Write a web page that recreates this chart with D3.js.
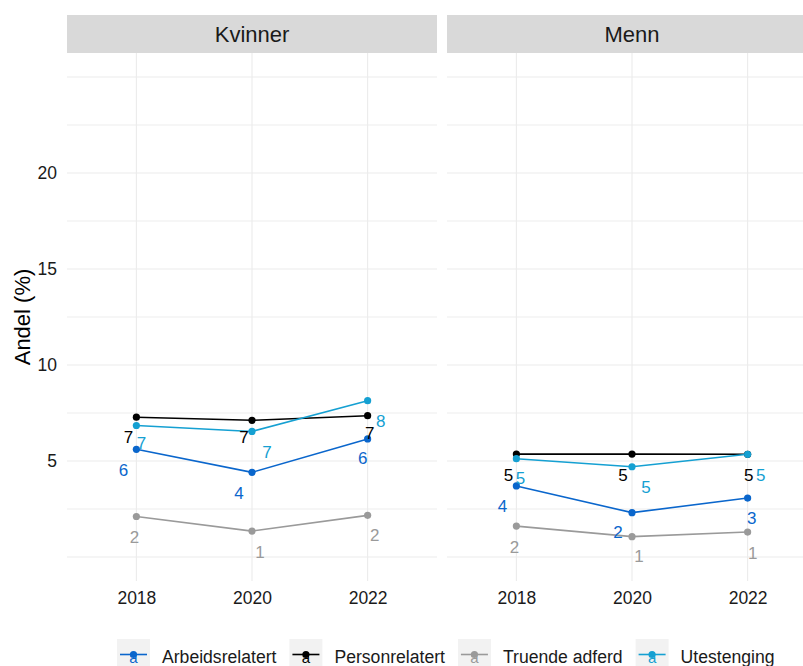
<!DOCTYPE html>
<html>
<head>
<meta charset="utf-8">
<script src="https://cdn.jsdelivr.net/npm/d3@7"></script>
<style>
  html, body { margin: 0; padding: 0; background: #ffffff; }
  svg { display: block; font-family: "Liberation Sans", Arial, sans-serif; }
</style>
</head>
<body>
<svg id="chart" width="803" height="666"></svg>
<script>
// ---------- data ----------
const panels = ["Kvinner", "Menn"];
const years = ["2018", "2020", "2022"];
const seriesNames = ["Arbeidsrelatert", "Personrelatert", "Truende adferd", "Utestenging"];
const yTicks = [5, 10, 15, 20];

const kvinnerArbeidsrelatert = [5.61, 4.41, 6.15];
const kvinnerPersonrelatert  = [7.28, 7.12, 7.36];
const kvinnerTruende         = [2.11, 1.35, 2.17];
const kvinnerUtestenging     = [6.85, 6.54, 8.14];

const mennArbeidsrelatert = [3.70, 2.31, 3.07];
const mennPersonrelatert  = [5.36, 5.36, 5.35];
const mennTruende         = [1.61, 1.06, 1.30];
const mennUtestenging     = [5.12, 4.70, 5.35];

// ---------- styles / layout (not data) ----------
const colors = ["#0a66cc", "#000000", "#9a9a9a", "#15a0d2"];
// label nudges in pixels (repel-like placement), [panel][series][year] = [dx, dy]
const labelNudge = [
  [ [[-13,21],[-13,21],[-5,20]], [[-8,20],[-8,17],[2,18]], [[-2,21],[8,21],[7,20]], [[5,18],[15,21],[13,21]] ],
  [ [[-14,21],[-14,20],[4,20]], [[-8,21],[-9,21],[1,21]], [[-2,21],[7,20],[5,21]], [[4,20],[14,21],[13,21]] ]
];

const values = [
  [kvinnerArbeidsrelatert, kvinnerPersonrelatert, kvinnerTruende, kvinnerUtestenging],
  [mennArbeidsrelatert, mennPersonrelatert, mennTruende, mennUtestenging]
];

const svg = d3.select("#chart");
const panelLeft = [67, 447];
const panelWidth = 370;
const panelTop = 53, panelBottom = 581;
const stripTop = 15;

const y = d3.scaleLinear().domain([-1.25, 26.25]).range([panelBottom, panelTop]);
const gridVals = d3.range(0, 25.01, 2.5);

panels.forEach((p, pi) => {
  const x0 = panelLeft[pi];
  const x = d3.scalePoint().domain(years).range([x0, x0 + panelWidth]).padding(0.6);
  const g = svg.append("g");

  // strip
  g.append("rect").attr("x", x0).attr("y", stripTop).attr("width", panelWidth)
    .attr("height", panelTop - stripTop).attr("fill", "#d9d9d9");
  g.append("text").attr("x", x0 + panelWidth / 2).attr("y", (stripTop + panelTop) / 2)
    .attr("text-anchor", "middle").attr("dominant-baseline", "central")
    .attr("font-size", 22).attr("fill", "#1a1a1a").text(p);

  // grid
  g.selectAll(".hg").data(gridVals).enter().append("line")
    .attr("x1", x0).attr("x2", x0 + panelWidth)
    .attr("y1", d => y(d)).attr("y2", d => y(d))
    .attr("stroke", "#ebebeb").attr("stroke-width", d => (d % 5 === 0 ? 1.1 : 0.9));
  g.selectAll(".vg").data(years).enter().append("line")
    .attr("x1", d => x(d)).attr("x2", d => x(d))
    .attr("y1", panelTop).attr("y2", panelBottom)
    .attr("stroke", "#ebebeb").attr("stroke-width", 1.1);

  // x axis labels
  const xa = d3.axisBottom(x).tickSize(0).tickPadding(0);
  const xg = g.append("g").attr("transform", `translate(0,${panelBottom})`).call(xa);
  xg.select(".domain").remove();
  xg.selectAll("text").attr("font-size", 17.5).attr("fill", "#1a1a1a")
    .attr("font-family", "'Liberation Sans', Arial, sans-serif")
    .attr("dy", null).attr("y", 23);

  const line = d3.line().x((d, i) => x(years[i])).y(d => y(d));
  values[pi].forEach((vals, si) => {
    g.append("path").datum(vals).attr("d", line).attr("fill", "none")
      .attr("stroke", colors[si]).attr("stroke-width", 1.6);
  });
  values[pi].forEach((vals, si) => {
    g.selectAll(null).data(vals).enter().append("circle")
      .attr("cx", (d, i) => x(years[i])).attr("cy", d => y(d)).attr("r", 3.6)
      .attr("fill", colors[si]);
  });
  values[pi].forEach((vals, si) => {
    g.selectAll(null).data(vals).enter().append("text")
      .attr("x", (d, i) => x(years[i]) + labelNudge[pi][si][i][0])
      .attr("y", (d, i) => y(d) + labelNudge[pi][si][i][1])
      .attr("text-anchor", "middle").attr("dominant-baseline", "central")
      .attr("font-size", 17).attr("fill", colors[si])
      .text(d => d3.format(".0f")(d));
  });
});

// y axis
const ya = d3.axisLeft(y).tickValues(yTicks).tickSize(0).tickPadding(0);
const yg = svg.append("g").attr("transform", "translate(57,0)").call(ya);
yg.select(".domain").remove();
yg.selectAll("text").attr("font-size", 17.5).attr("fill", "#1a1a1a")
  .attr("font-family", "'Liberation Sans', Arial, sans-serif").attr("x", 0);

svg.append("text").attr("transform", `translate(30,${(panelTop + panelBottom) / 2}) rotate(-90)`)
  .attr("text-anchor", "middle").attr("font-size", 22).attr("fill", "#000").text("Andel (%)");

// legend
const lg = svg.append("g");
let lx = 117;
const keySize = 33, keyTop = 639, keyMid = 654.5;
seriesNames.forEach((name, si) => {
  const k = lg.append("g");
  k.append("rect").attr("x", lx).attr("y", keyTop).attr("width", keySize).attr("height", keySize)
    .attr("fill", "#f2f2f2");
  k.append("line").attr("x1", lx + 3).attr("x2", lx + keySize - 3).attr("y1", keyMid).attr("y2", keyMid)
    .attr("stroke", colors[si]).attr("stroke-width", 1.6);
  k.append("circle").attr("cx", lx + keySize / 2).attr("cy", keyMid).attr("r", 3.6).attr("fill", colors[si]);
  k.append("text").attr("x", lx + keySize / 2).attr("y", 663).attr("text-anchor", "middle")
    .attr("font-size", 15).attr("fill", colors[si]).text("a");
  const t = k.append("text").attr("x", lx + keySize + 12).attr("y", 663)
    .attr("font-size", 17.6).attr("fill", "#1a1a1a").text(name);
  lx += keySize + 12 + t.node().getComputedTextLength() + 13;
});
</script>
</body>
</html>
